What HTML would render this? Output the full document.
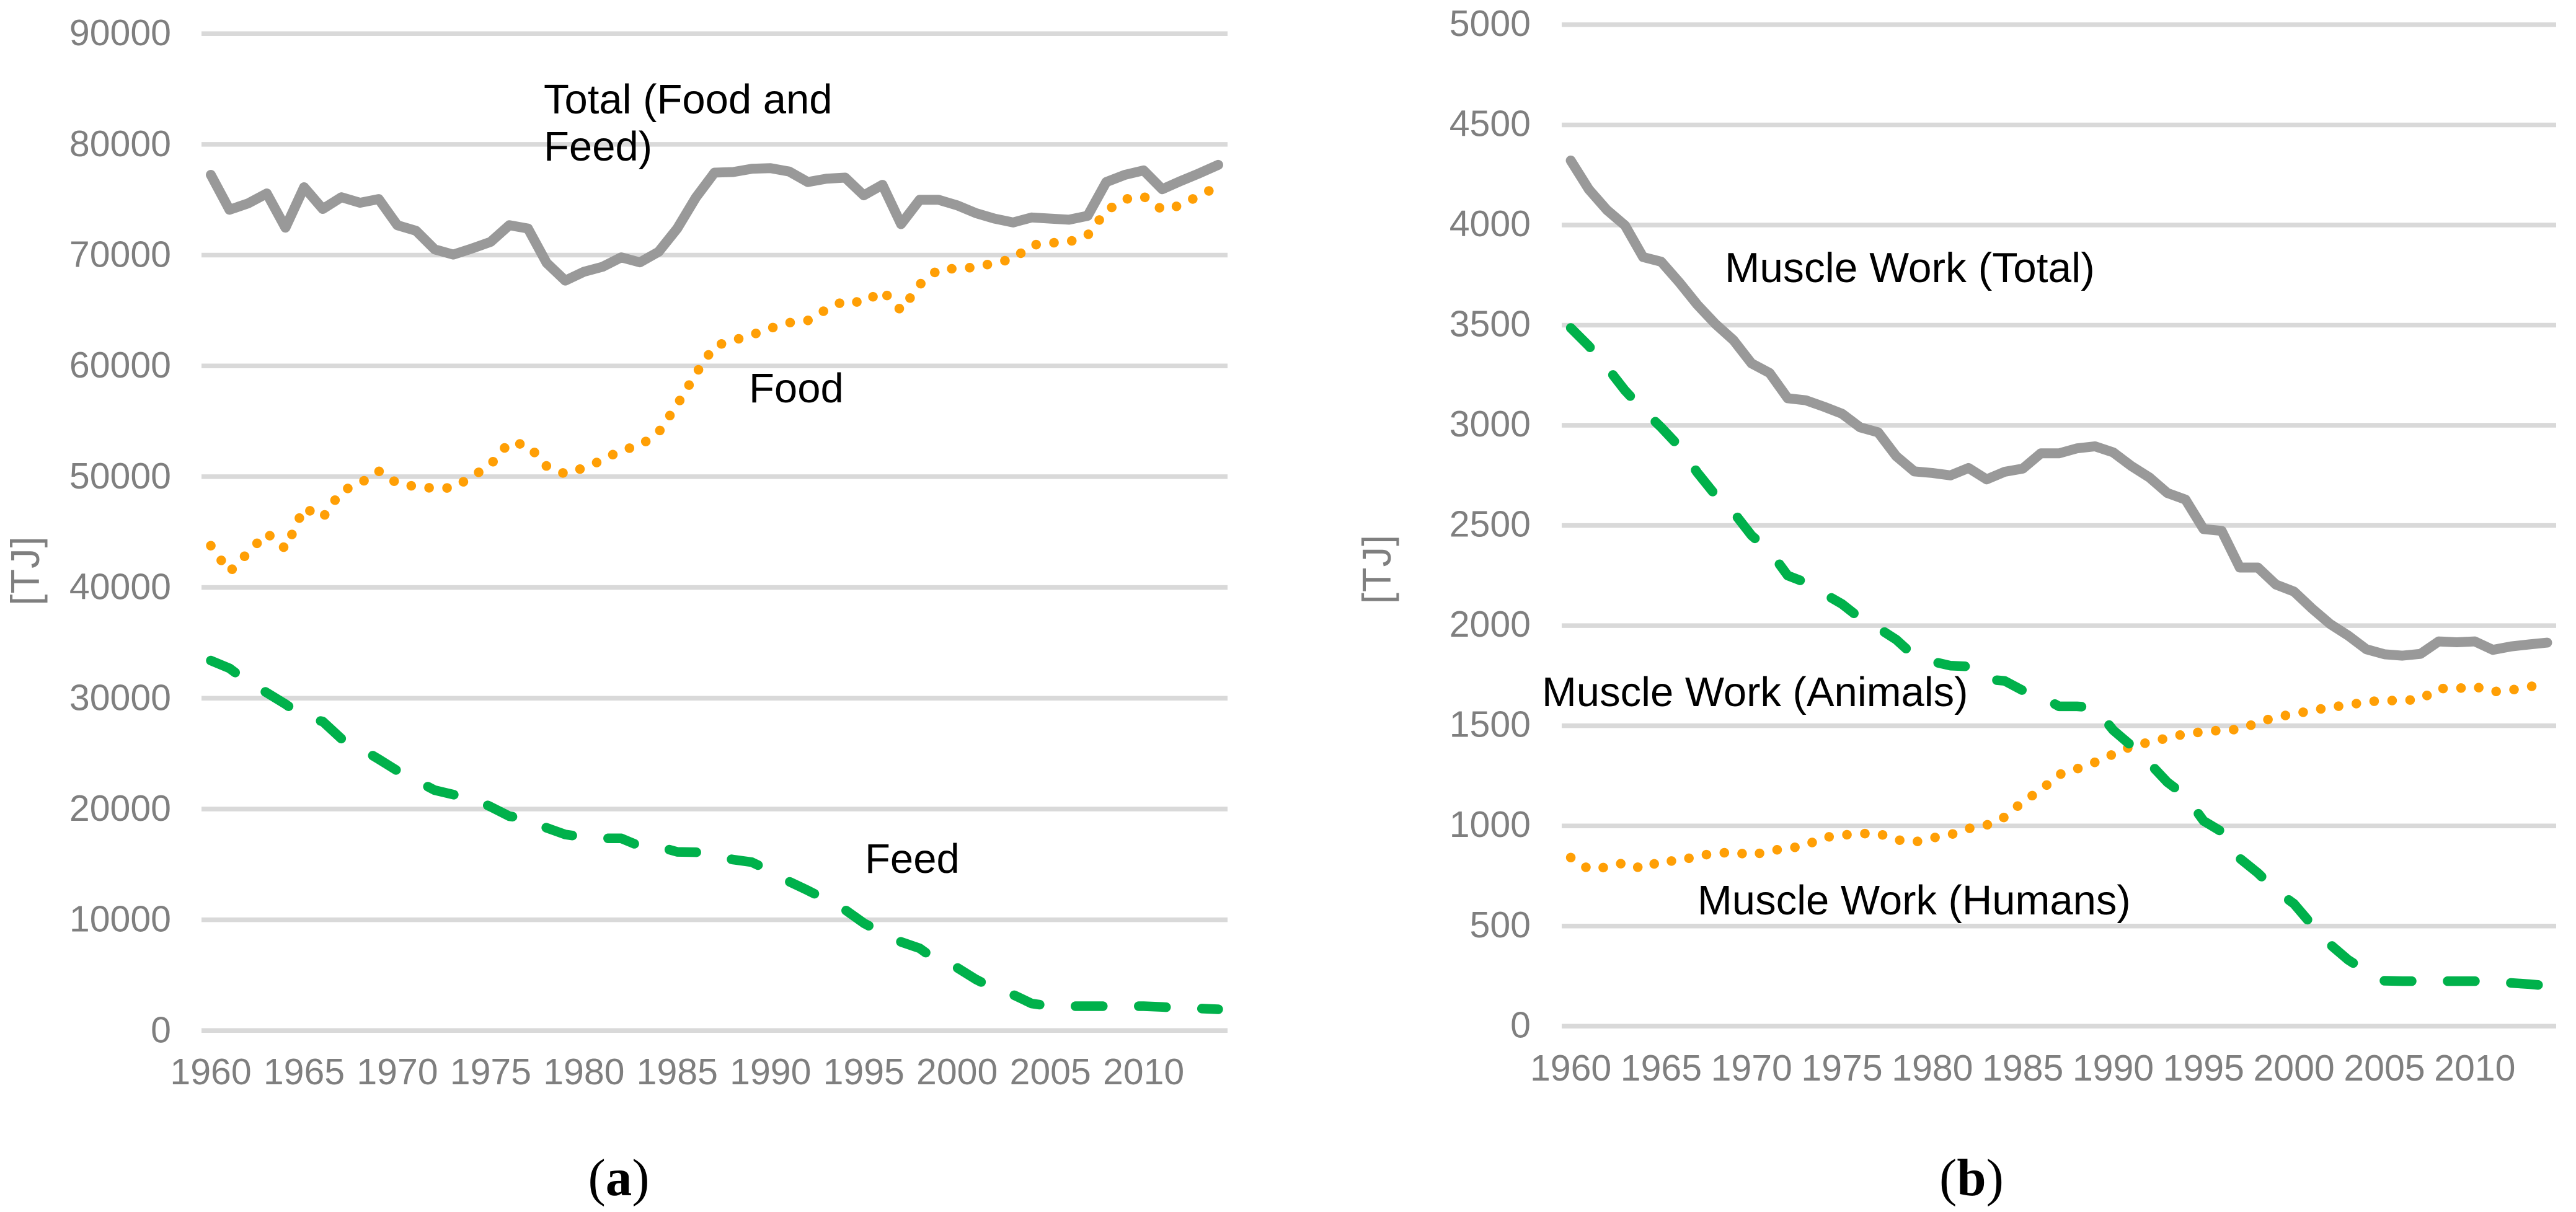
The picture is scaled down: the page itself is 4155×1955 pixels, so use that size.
<!DOCTYPE html>
<html lang="en">
<head>
<meta charset="utf-8">
<title>Energy in food, feed and muscle work</title>
<style>
html,body{margin:0;padding:0;background:#fff;}
svg{display:block;font-family:"Liberation Sans",sans-serif;}
</style>
</head>
<body>
<svg id="figure" xmlns="http://www.w3.org/2000/svg" width="4155" height="1955" viewBox="0 0 4155 1955">
  <rect x="0" y="0" width="4155" height="1955" fill="#ffffff"/>
  <g id="chart-a"></g>
  <g id="chart-b"></g>

  <g font-size="67" fill="#000000">
    <text x="877" y="183">Total (Food and</text>
    <text x="877" y="259">Feed)</text>
    <text x="1208" y="649">Food</text>
    <text x="1395" y="1408">Feed</text>
    <text x="2782" y="455" font-size="67.7">Muscle Work (Total)</text>
    <text x="2487" y="1139">Muscle Work (Animals)</text>
    <text x="2738" y="1475">Muscle Work (Humans)</text>
  </g>

  <text transform="translate(63,920.5) rotate(-90)" text-anchor="middle" font-size="65" letter-spacing="1" fill="#7f7f7f">[TJ]</text>
  <text transform="translate(2243,918) rotate(-90)" text-anchor="middle" font-size="65" letter-spacing="1" fill="#7f7f7f">[TJ]</text>

  <text x="998" y="1928" text-anchor="middle" font-size="85" fill="#000000" style="font-family:'Liberation Serif',serif">(<tspan font-weight="bold">a</tspan>)</text>
  <text x="3180" y="1928" text-anchor="middle" font-size="85" fill="#000000" style="font-family:'Liberation Serif',serif">(<tspan font-weight="bold">b</tspan>)</text>
</svg>

<script>
var years = [1960,1961,1962,1963,1964,1965,1966,1967,1968,1969,1970,1971,1972,1973,1974,1975,1976,1977,1978,1979,1980,1981,1982,1983,1984,1985,1986,1987,1988,1989,1990,1991,1992,1993,1994,1995,1996,1997,1998,1999,2000,2001,2002,2003,2004,2005,2006,2007,2008,2009,2010,2011,2012,2013,2014];
var xTickLabels = [1960,1965,1970,1975,1980,1985,1990,1995,2000,2005,2010];

var yTicksA = [0,10000,20000,30000,40000,50000,60000,70000,80000,90000];
var totalFoodFeed = [77250,74100,74670,75570,72480,76130,74170,75230,74730,75060,72700,72200,70520,70050,70600,71200,72700,72400,69300,67700,68500,68950,69800,69350,70300,72400,75200,77450,77500,77800,77850,77550,76600,76900,77000,75400,76350,72800,75000,75000,74500,73800,73300,72950,73400,73300,73200,73550,76600,77250,77650,75950,76700,77400,78150];
var food = [43770,41400,43150,44900,43500,47200,46300,48700,49400,50500,49400,49100,48950,49000,50000,51100,53100,52850,50950,50250,50800,51500,52400,52800,54000,56500,59300,61800,62300,62800,63400,63900,64100,65100,65900,65700,66800,65000,67350,68700,68800,68900,69300,69650,70900,71100,71200,71800,74000,75050,75300,74100,74500,75400,76200];
var feed = [33400,32700,31450,30500,29470,28300,27900,26340,25500,24500,23450,22580,21700,21300,21000,20200,19350,19100,18300,17700,17450,17350,17350,16650,16600,16130,16100,15780,15430,15200,14400,13450,12650,11800,10900,9700,8800,8000,7420,6200,5680,4630,3760,3240,2440,2200,2200,2200,2200,2200,2200,2130,2020,1990,1920];

var yTicksB = [0,500,1000,1500,2000,2500,3000,3500,4000,4500,5000];
var muscleTotal = [4322,4178,4075,3998,3840,3817,3714,3602,3506,3425,3309,3261,3135,3125,3093,3058,2990,2965,2846,2770,2762,2750,2787,2730,2768,2784,2860,2860,2885,2895,2865,2797,2740,2662,2629,2482,2473,2290,2290,2205,2170,2085,2008,1950,1882,1857,1850,1859,1921,1917,1921,1879,1896,1906,1915];
var muscleHumans = [842,784,794,817,784,827,823,852,861,871,852,877,886,904,942,954,961,963,931,919,940,956,987,1004,1044,1121,1179,1256,1285,1318,1358,1397,1418,1439,1460,1470,1478,1482,1516,1543,1559,1576,1593,1603,1620,1626,1626,1632,1686,1686,1696,1670,1678,1694,1715];
var muscleAnimals = [3486,3396,3290,3174,3077,2990,2894,2764,2652,2566,2450,2373,2250,2215,2160,2108,2037,1988,1930,1848,1821,1800,1796,1732,1724,1676,1647,1597,1597,1590,1478,1401,1314,1218,1150,1025,971,838,765,678,611,505,408,331,274,227,225,225,225,225,225,220,216,210,202];

var SVGNS = 'http://www.w3.org/2000/svg';

function xAxisA(year){ return 325 + (year - 1960 + 0.5) * (1980 - 325) / years.length; }
function yAxisA(v){ return 1662.3 - v * (1662.3 - 54.2) / 90000; }
function xAxisB(year){ return 2519 + (year - 1960 + 0.5) * (4123 - 2519) / years.length; }
function yAxisB(v){ return 1655.3 - v * (1655.3 - 39.9) / 5000; }

function drawGridAndTicks(parent, prefix, yTicks, xFn, yFn, left, right, yLabelX, yBase, xBase){
  yTicks.forEach(function(t){
    var line = document.createElementNS(SVGNS, 'line');
    
    
    line.setAttribute('x1', left);
    line.setAttribute('x2', right);
    line.setAttribute('y1', yFn(t));
    line.setAttribute('y2', yFn(t));
    line.setAttribute('stroke', '#d9d9d9');
    line.setAttribute('stroke-width', '7.5');
    parent.appendChild(line);

    var label = document.createElementNS(SVGNS, 'text');
    
    
    label.setAttribute('x', yLabelX);
    label.setAttribute('y', yFn(t) + yBase);
    label.setAttribute('text-anchor', 'end');
    label.setAttribute('font-size', '59');
    label.setAttribute('fill', '#7f7f7f');
    label.textContent = String(t);
    parent.appendChild(label);
  });
  xTickLabels.forEach(function(y){
    var label = document.createElementNS(SVGNS, 'text');
    
    
    label.setAttribute('x', xFn(y));
    label.setAttribute('y', xBase);
    label.setAttribute('text-anchor', 'middle');
    label.setAttribute('font-size', '59');
    label.setAttribute('fill', '#7f7f7f');
    label.textContent = String(y);
    parent.appendChild(label);
  });
}

function drawSeries(parent, name, values, xFn, yFn, color, dash, width){
  var d = values.map(function(v, i){
    return (i ? 'L' : 'M') + xFn(years[i]).toFixed(2) + ' ' + yFn(v).toFixed(2);
  }).join(' ');
  var path = document.createElementNS(SVGNS, 'path');
  
  
  path.setAttribute('d', d);
  path.setAttribute('fill', 'none');
  path.setAttribute('stroke', color);
  path.setAttribute('stroke-width', width);
  path.setAttribute('stroke-linecap', 'round');
  path.setAttribute('stroke-linejoin', 'round');
  if (dash) path.setAttribute('stroke-dasharray', dash);
  parent.appendChild(path);
}

var chartA = document.getElementById('chart-a');
var chartB = document.getElementById('chart-b');
var GREY = '#999999', ORANGE = '#ff9f05', GREEN = '#00b14b';
var DASHED = '44 58', DOTTED = '0.01 29';

drawGridAndTicks(chartA, 'a', yTicksA, xAxisA, yAxisA, 325, 1980, 276, 19, 1749);
drawSeries(chartA, 'series-total-food-and-feed', totalFoodFeed, xAxisA, yAxisA, GREY, null, 16);
drawSeries(chartA, 'series-food', food, xAxisA, yAxisA, ORANGE, DOTTED, 15.5);
drawSeries(chartA, 'series-feed', feed, xAxisA, yAxisA, GREEN, DASHED, 15.5);

drawGridAndTicks(chartB, 'b', yTicksB, xAxisB, yAxisB, 2519, 4123, 2469, 18, 1743);
drawSeries(chartB, 'series-muscle-work-total', muscleTotal, xAxisB, yAxisB, GREY, null, 16);
drawSeries(chartB, 'series-muscle-work-humans', muscleHumans, xAxisB, yAxisB, ORANGE, DOTTED, 15.5);
drawSeries(chartB, 'series-muscle-work-animals', muscleAnimals, xAxisB, yAxisB, GREEN, DASHED, 15.5);
</script>
</body>
</html>
